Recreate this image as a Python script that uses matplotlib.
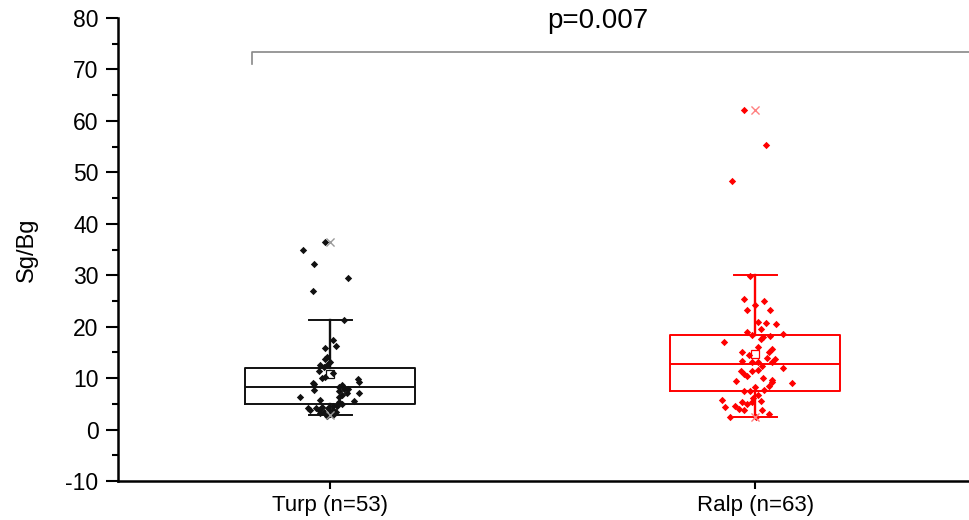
import matplotlib
matplotlib.use("Agg")
import matplotlib.pyplot as plt
from matplotlib.ticker import MultipleLocator

plt.rcParams['font.family'] = ['Liberation Sans', 'DejaVu Sans']
plt.rcParams['axes.unicode_minus'] = False

categories = ["Turp (n=53)", "Ralp (n=63)"]
positions = [1, 2]

turp_values = [36.4, 34.9, 32.2, 29.5, 26.9, 21.2,
               17.4, 16.3, 15.8, 14.2, 13.7, 13.2, 12.6, 12.2, 12.6, 11.3,
               11.0, 10.3, 10.0, 9.8, 9.1, 8.8, 9.3, 8.7, 8.2, 7.8,
               7.7, 7.8, 7.4, 7.2, 7.1, 6.7, 6.4, 6.4, 5.8, 5.6,
               5.4, 5.0, 4.6, 4.5, 4.1, 4.3, 4.1, 4.1, 3.8, 3.8,
               3.8, 3.5, 3.5, 3.2, 3.0, 2.6, 2.8]
turp_jitter = [-0.012, -0.064, -0.038, 0.042, -0.042, 0.031,
               0.007, 0.012, -0.014, -0.007, -0.014, -0.002, -0.024, -0.016, -0.007, -0.026,
               0.007, -0.014, -0.019, 0.064, -0.042, -0.038, 0.066, 0.028, 0.019, 0.031,
               -0.038, 0.042, 0.021, 0.066, 0.040, 0.028, -0.071, 0.021, -0.024, 0.056,
               0.019, 0.026, 0.007, 0.016, -0.054, -0.019, -0.035, -0.005, -0.047, -0.026,
               0.005, -0.016, 0.012, -0.024, 0.0, -0.007, 0.007]

ralp_values = [62.2, 55.4, 48.4,
               29.9, 25.4, 24.9, 24.2, 23.3, 23.3, 20.9, 20.8, 20.5, 19.5, 18.9,
               18.4, 18.5, 17.0, 17.6, 18.0, 18.1, 16.1, 15.6,
               15.0, 15.0, 13.3, 13.9, 13.7, 13.2, 13.2, 13.1, 11.9, 11.4,
               11.4, 11.6, 10.4, 9.5, 10.1, 9.6, 9.3, 9.0, 8.3, 8.5,
               7.7, 7.5, 7.4, 6.2, 5.8, 5.6, 5.3, 5.3, 4.6, 4.9,
               4.3, 3.8, 3.8, 3.0, 2.5, 2.5,
               14.4, 12.3, 10.8, 6.8, 4.0]
ralp_jitter = [-0.026, 0.024, -0.054,
               -0.012, -0.026, 0.021, 0.0, -0.019, 0.035, 0.007, 0.024, 0.049, 0.014, -0.019,
               -0.007, 0.064, -0.073, 0.012, 0.019, 0.035, 0.005, 0.038,
               -0.031, 0.031, -0.031, 0.028, 0.045, 0.038, -0.007, 0.005, 0.064, -0.033,
               -0.009, 0.005, -0.019, -0.045, 0.019, 0.040, 0.038, 0.087, -0.002, 0.031,
               0.021, -0.028, -0.012, -0.005, -0.078, 0.014, -0.031, -0.007, -0.047, -0.019,
               -0.071, 0.016, -0.026, 0.031, -0.059, 0.002,
               -0.014, 0.016, -0.026, 0.007, -0.038]

# box statistics (Origin style)
q1 = [4.9, 7.4]
median = [8.3, 12.7]
q3 = [12.0, 18.4]
whisker_low = [2.8, 2.5]
whisker_high = [21.2, 30.0]
means = [10.8, 14.6]
maxima = [36.4, 62.2]
minima = [2.8, 2.5]
p_text = "p=0.007"

colors = ["#111111", "#ff0000"]
x_colors = ["#9a9a9a", "#ff8080"]

fig = plt.figure(figsize=(9.7, 5.2), dpi=100)
ax = fig.add_axes([118 / 970, 39 / 520, 852 / 970, 463 / 520])

groups = [(turp_values, turp_jitter), (ralp_values, ralp_jitter)]
for i in range(2):
    stats = [dict(med=median[i], q1=q1[i], q3=q3[i], whislo=whisker_low[i],
                  whishi=whisker_high[i], mean=means[i], fliers=[])]
    c = colors[i]
    ax.bxp(stats, positions=[positions[i]], widths=0.4, showmeans=True,
           boxprops=dict(color=c, linewidth=1.4),
           medianprops=dict(color=c, linewidth=1.4),
           whiskerprops=dict(color=c, linewidth=1.7),
           capprops=dict(color=c, linewidth=1.4),
           meanprops=dict(marker='s', markerfacecolor='none', markeredgecolor=c,
                          markersize=5.5, markeredgewidth=0.9),
           capwidths=0.1, manage_ticks=False)
    vals, jit = groups[i]
    ax.scatter([positions[i] + j for j in jit], vals, marker='D', s=14,
               color=c, linewidths=0, zorder=3)
    ax.scatter([positions[i], positions[i]], [maxima[i], minima[i]], marker='x',
               s=34, color=x_colors[i], linewidths=1.0, zorder=4)

ax.set_xlim(0.5, 2.505)
ax.set_ylim(-10, 80)
ax.set_xticks(positions)
ax.set_xticklabels(categories, fontsize=16)
ax.yaxis.set_major_locator(MultipleLocator(10))
ax.yaxis.set_minor_locator(MultipleLocator(5))
ax.tick_params(axis='y', which='major', length=9, width=1.5, labelsize=16.5, pad=5)
ax.tick_params(axis='y', which='minor', length=4.5, width=1.5)
ax.tick_params(axis='x', which='major', length=6, width=1.5, pad=4)
ax.set_ylabel("Sg/Bg", fontsize=17, labelpad=20)

for side in ['top', 'right']:
    ax.spines[side].set_visible(False)
for side in ['left', 'bottom']:
    ax.spines[side].set_linewidth(1.8)

# significance bracket
ax.plot([0.816, 0.816, 2.6], [71.1, 73.3, 73.3], color="#888888", linewidth=1.2,
        clip_on=True)
ax.text(1.628, 79.5, p_text, ha='center', va='center', fontsize=20, clip_on=False)

fig.savefig("out.png", dpi=100)
